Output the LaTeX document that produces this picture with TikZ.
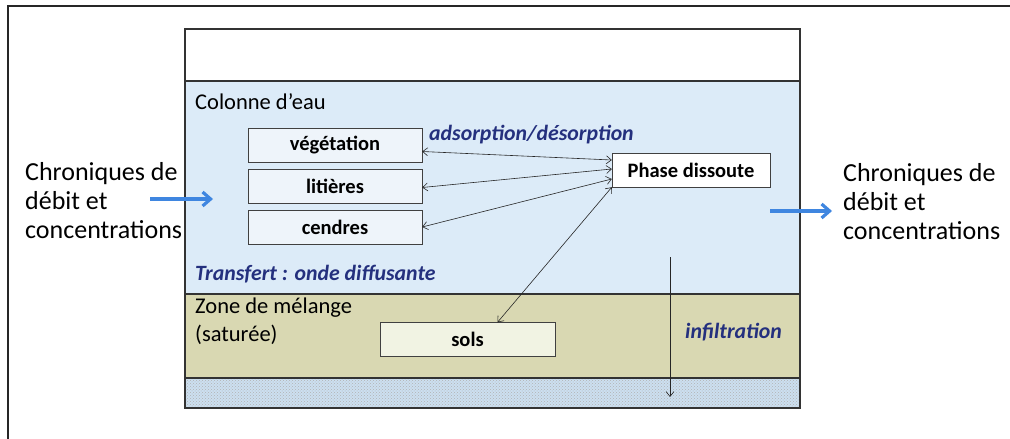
\documentclass[tikz,border=0pt]{standalone}
\usepackage{fontspec}
\setmainfont{Carlito}
\usepackage{xcolor}
\usepackage{tikz}
\usetikzlibrary{arrows.meta,positioning,patterns}
\definecolor{eaublue}{HTML}{DCEBF8}
\definecolor{melolive}{HTML}{D9D8B2}
\definecolor{boxblue}{HTML}{EEF4FA}
\definecolor{boxolive}{HTML}{F1F3E3}
\definecolor{navytxt}{HTML}{24307E}
\definecolor{flowblue}{HTML}{3F86E0}
\definecolor{nappeblue}{HTML}{CCDFF0}
\tikzset{
  compnode/.style={draw=black!75,fill=boxblue,minimum width=174pt,minimum height=34pt,inner sep=0pt,font=\fontsize{20.5}{23}\selectfont\bfseries},
  solnode/.style={compnode,fill=boxolive,minimum width=175pt},
  phasenode/.style={compnode,fill=white,minimum width=158pt},
  zonetxt/.style={anchor=base west,inner sep=0pt,font=\fontsize{22.5}{26}\selectfont},
  proctxt/.style={anchor=base west,inner sep=0pt,text=navytxt,font=\fontsize{21.8}{25}\selectfont\bfseries\itshape},
  sidetxt/.style={anchor=north west,inner sep=0pt,align=left,font=\fontsize{26}{29}\selectfont},
  echedge/.style={<->,>={Straight Barb[length=5pt,width=8pt]},semithick,black!85},
  infedge/.style={->,>={Straight Barb[length=5pt,width=8pt]},semithick,black!85},
  flowedge/.style={->,>={Straight Barb[length=8pt,width=14pt]},line width=3.2pt,flowblue},
  layer/.style={draw=black!80,line width=1.3pt},
}

\begin{document}
\begin{tikzpicture}[x=1pt,y=-1pt]
  \useasboundingbox (0,0) rectangle (1010,439);
  \draw[line width=2pt,black!85] (8,439) -- (8,6) -- (1010,6);
  \draw[layer,fill=white] (185,29) rectangle (800,81);
  \draw[layer,fill=eaublue] (185,81) rectangle (800,294);
  \draw[layer,fill=melolive] (185,294) rectangle (800,378);
  \draw[layer,fill=nappeblue] (185,378) rectangle (800,408);
  \fill[pattern=crosshatch dots,pattern color=black!30] (185,378) rectangle (800,408);
  \draw[layer] (185,378) rectangle (800,408);
  \node[compnode] (nVeg) at (335,145.5) {végétation};
  \node[compnode] (nLit) at (335,186.5) {litières};
  \node[compnode] (nCen) at (335,227) {cendres};
  \node[phasenode] (nPhase) at (691,170) {Phase dissoute};
  \node[solnode] (nSols) at (467.5,339.5) {sols};
  \node[zonetxt] (tEau) at (195,109) {Colonne d’eau};
  \node[proctxt] (tAds) at (429,140) {adsorption/désorption};
  \node[proctxt] (tTrans) at (195,280) {Transfert : onde diffusante};
  \node[zonetxt] (tZone) at (195,313) {Zone de mélange};
  \node[zonetxt] (tSat) at (195,341) {(saturée)};
  \node[proctxt] (tInf) at (685,338) {infiltration};
  \node[sidetxt] (tIn) at (25,162) {Chroniques de\\débit et\\concentrations};
  \node[sidetxt] (tOut) at (843,163) {Chroniques de\\débit et\\concentrations};
  \coordinate (inA) at (150,199);
  \coordinate (inB) at (213,199);
  \coordinate (outA) at (770,211);
  \coordinate (outB) at (832,211);
  \coordinate (infTop) at (670,257);
  \coordinate (infBot) at (670,397);
  \draw[echedge] ([yshift=-6pt]nVeg.east) -- ([yshift=10pt]nPhase.west);
  \draw[echedge] ([yshift=-1pt]nLit.east) -- ([yshift=1pt]nPhase.west);
  \draw[echedge] (nCen.east) -- ([yshift=-9pt]nPhase.west);
  \draw[echedge] ([xshift=30pt]nSols.north) -- (nPhase.south west);
  \draw[infedge] (infTop) -- (infBot);
  \draw[flowedge] (inA) -- (inB);
  \draw[flowedge] (outA) -- (outB);
\end{tikzpicture}
\end{document}
